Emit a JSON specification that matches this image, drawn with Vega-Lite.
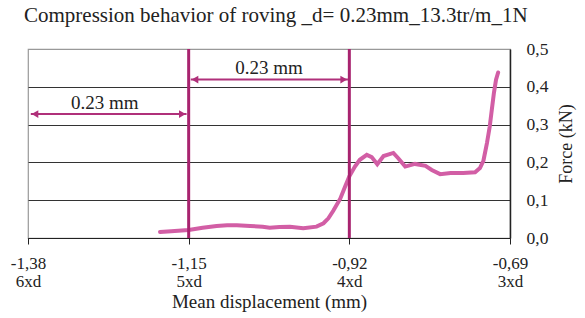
{
  "$schema": "https://vega.github.io/schema/vega-lite/v6.json",
  "width": 482,
  "height": 189,
  "autosize": "none",
  "padding": {"left": 28, "top": 49, "right": 75, "bottom": 80},
  "background": "white",
  "title": {"text": "Compression behavior of roving _d= 0.23mm_13.3tr/m_1N", "anchor": "start", "frame": "group", "font": "Liberation Serif", "fontSize": 21, "fontWeight": "normal", "color": "#222", "offset": 14, "dx": -4},
  "config": {"view": {"stroke": "#999", "strokeWidth": 1.2}, "font": "Liberation Serif"},
  "datasets": {
    "curve": [
      {"x": -1.191, "y": 0.016}, {"x": -1.175, "y": 0.018}, {"x": -1.15, "y": 0.021}, {"x": -1.13, "y": 0.027},
      {"x": -1.11, "y": 0.032}, {"x": -1.095, "y": 0.034}, {"x": -1.081, "y": 0.034}, {"x": -1.062, "y": 0.032},
      {"x": -1.044, "y": 0.030}, {"x": -1.034, "y": 0.027}, {"x": -1.02, "y": 0.029}, {"x": -1.005, "y": 0.030},
      {"x": -0.986, "y": 0.026}, {"x": -0.967, "y": 0.030}, {"x": -0.957, "y": 0.039}, {"x": -0.95, "y": 0.052},
      {"x": -0.943, "y": 0.072}, {"x": -0.933, "y": 0.104}, {"x": -0.926, "y": 0.136}, {"x": -0.92, "y": 0.163},
      {"x": -0.912, "y": 0.189}, {"x": -0.905, "y": 0.207}, {"x": -0.895, "y": 0.220}, {"x": -0.888, "y": 0.214},
      {"x": -0.88, "y": 0.195}, {"x": -0.871, "y": 0.217}, {"x": -0.857, "y": 0.225}, {"x": -0.85, "y": 0.211},
      {"x": -0.84, "y": 0.189}, {"x": -0.826, "y": 0.196}, {"x": -0.811, "y": 0.191}, {"x": -0.802, "y": 0.180},
      {"x": -0.79, "y": 0.169}, {"x": -0.775, "y": 0.172}, {"x": -0.757, "y": 0.172}, {"x": -0.74, "y": 0.174},
      {"x": -0.733, "y": 0.185}, {"x": -0.728, "y": 0.205}, {"x": -0.723, "y": 0.251}, {"x": -0.719, "y": 0.295},
      {"x": -0.716, "y": 0.340}, {"x": -0.713, "y": 0.384}, {"x": -0.71, "y": 0.419}, {"x": -0.707, "y": 0.438}
    ],
    "vlines": [{"x": -1.15, "y": 0, "y2": 0.5}, {"x": -0.92, "y": 0, "y2": 0.5}],
    "arrows": [{"x": -1.147, "x2": -0.922, "y": 0.419}, {"x": -1.376, "x2": -1.153, "y": 0.328}],
    "heads": [
      {"x": -1.141, "y": 0.419, "dir": "left"}, {"x": -0.928, "y": 0.419, "dir": "right"},
      {"x": -1.370, "y": 0.328, "dir": "left"}, {"x": -1.159, "y": 0.328, "dir": "right"}
    ],
    "labels": [{"x": -1.035, "y": 0.451, "t": "0.23 mm"}, {"x": -1.27, "y": 0.358, "t": "0.23 mm"}]
  },
  "encoding": {
    "x": {"field": "x", "type": "quantitative", "scale": {"domain": [-1.38, -0.69], "nice": false, "zero": false},
      "axis": {"title": "Mean displacement (mm)", "titleFont": "Liberation Serif", "titleFontSize": 19, "titleFontWeight": "normal", "titleColor": "#222", "titlePadding": 3,
        "values": [-1.38, -1.15, -0.92, -0.69], "grid": false, "domainColor": "#222", "tickColor": "#222", "tickSize": 6,
        "labelExpr": "[replace(replace(format(datum.value, '.2f'), '.', ','), '\u2212', '-'), datum.value < -1.3 ? '6xd' : datum.value < -1.1 ? '5xd' : datum.value < -0.9 ? '4xd' : '3xd']",
        "labelFont": "Liberation Serif", "labelFontSize": 17, "labelColor": "#222", "labelLineHeight": 18, "labelOverlap": false, "labelFlush": false, "labelPadding": 11}},
    "y": {"field": "y", "type": "quantitative", "scale": {"domain": [0, 0.5], "nice": false},
      "axis": {"orient": "right", "title": "Force (kN)", "titleFont": "Liberation Serif", "titleFontSize": 18, "titleFontWeight": "normal", "titleColor": "#222", "titlePadding": 10, "titleAngle": 270, "titleBaseline": "top",
        "values": [0, 0.1, 0.2, 0.3, 0.4, 0.5], "labelExpr": "replace(format(datum.value, '.1f'), '.', ',')", "labelOverlap": false, "labelFlush": false, "labelBound": false,
        "labelFont": "Liberation Serif", "labelFontSize": 17.5, "labelColor": "#222", "labelPadding": 16, "ticks": false,
        "domainColor": "#222", "domainWidth": 1.5, "grid": true, "gridColor": {"condition": {"test": "datum.value == 0.5", "value": "#999"}, "value": "#333"}, "gridWidth": 1.2}}
  },
  "layer": [
    {
      "data": {"name": "curve"},
      "mark": {"type": "line", "color": "#d25ea5", "strokeWidth": 4, "strokeCap": "round"}
    },
    {
      "data": {"name": "vlines"},
      "mark": {"type": "rule", "color": "#a8236f", "strokeWidth": 3},
      "encoding": {"y2": {"field": "y2"}}
    },
    {
      "data": {"name": "arrows"},
      "mark": {"type": "rule", "color": "#b0307a", "strokeWidth": 2},
      "encoding": {"x2": {"field": "x2"}}
    },
    {
      "data": {"name": "heads"},
      "mark": {"type": "point", "filled": true, "opacity": 1, "color": "#b0307a", "size": 60},
      "encoding": {"shape": {"field": "dir", "type": "nominal", "scale": {"domain": ["left", "right"], "range": ["triangle-left", "triangle-right"]}, "legend": null}}
    },
    {
      "data": {"name": "labels"},
      "mark": {"type": "text", "font": "Liberation Serif", "fontSize": 19, "color": "#222", "baseline": "middle", "align": "center"},
      "encoding": {"text": {"field": "t"}}
    }
  ]
}
